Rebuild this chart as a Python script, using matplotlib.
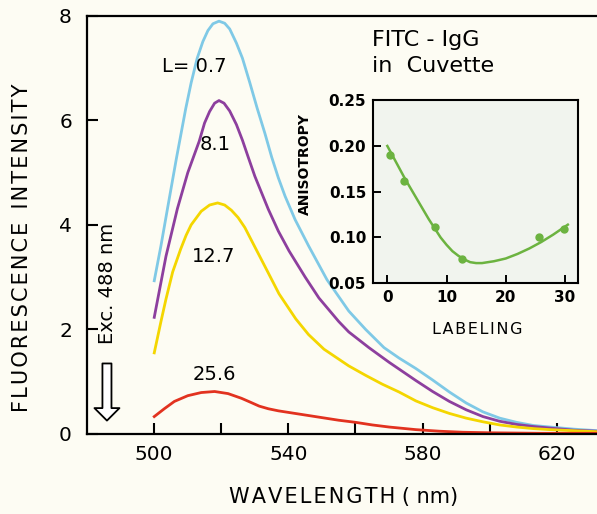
import matplotlib
matplotlib.use("Agg")
import matplotlib.pyplot as plt

# emission spectra (wavelength in nm, intensity)
wl_07 = [500, 502, 504, 506.6, 509.4, 511, 512.8, 514.5, 516, 517.5, 519.3, 521, 522.5, 524.5, 526.3,
         528.5, 530.7, 533, 535, 537, 539, 542, 546, 551.5, 558, 563, 568.5, 573, 578, 583, 588, 593,
         598, 603, 608, 613, 618, 625, 632]
fl_07 = [2.93, 3.6, 4.33, 5.27, 6.23, 6.72, 7.19, 7.51, 7.72, 7.85, 7.9, 7.86, 7.75, 7.48, 7.19,
         6.72, 6.23, 5.75, 5.3, 4.9, 4.55, 4.1, 3.6, 2.95, 2.35, 2.0, 1.65, 1.45, 1.25, 1.03, 0.8, 0.59,
         0.42, 0.3, 0.22, 0.16, 0.13, 0.09, 0.06]

wl_81 = [500, 503.5, 506.9, 510, 513.4, 515, 516.5, 518, 519.3, 520.8, 522.5, 524.5, 526.3, 528, 530,
         534, 537, 540.2, 545, 549.1, 555, 558, 564, 570, 578, 583, 588, 593, 598, 603, 608, 613, 618,
         625, 632]
fl_81 = [2.23, 3.4, 4.31, 5.0, 5.6, 5.95, 6.17, 6.33, 6.38, 6.33, 6.18, 5.92, 5.62, 5.3, 4.93,
         4.3, 3.88, 3.5, 3.0, 2.6, 2.15, 1.95, 1.65, 1.37, 1.02, 0.81, 0.62, 0.46, 0.33, 0.24, 0.18, 0.14,
         0.11, 0.07, 0.05]

wl_127 = [500, 502, 503.5, 505.5, 507.9, 509.5, 511, 514, 516.5, 518.9, 521, 523, 525, 527, 530.3, 534,
          537.2, 542.2, 546, 550.6, 558, 563, 568, 573, 578, 583, 588, 593, 598, 603, 608, 613, 618,
          625, 632]
fl_127 = [1.55, 2.15, 2.58, 3.1, 3.54, 3.8, 4.0, 4.26, 4.38, 4.42, 4.38, 4.28, 4.14, 3.95, 3.54, 3.08,
          2.68, 2.2, 1.9, 1.62, 1.3, 1.12, 0.95, 0.8, 0.63, 0.5, 0.39, 0.3, 0.23, 0.17, 0.13, 0.1, 0.08,
          0.06, 0.04]

wl_256 = [500, 503, 506, 510, 514, 518, 522, 526, 528.5, 531.3, 534, 537, 540, 545, 550, 555, 560, 565,
          570, 578, 585, 592, 600, 615, 632]
fl_256 = [0.33, 0.48, 0.62, 0.73, 0.79, 0.81, 0.77, 0.68, 0.61, 0.53, 0.48, 0.44, 0.41, 0.36, 0.31,
          0.26, 0.22, 0.17, 0.13, 0.08, 0.05, 0.03, 0.02, 0.01, 0.01]

# inset: anisotropy vs labeling
lab_pts = [0.5, 2.9, 8.0, 12.7, 25.6, 29.8]
aniso_pts = [0.190, 0.162, 0.111, 0.077, 0.101, 0.109]
lab_fit = [0, 1, 2, 3, 4, 5, 6, 7, 8, 9, 10, 11, 12, 13, 14, 15, 16, 17, 18, 20, 22, 24, 26, 28, 30.5]
aniso_fit = [0.200, 0.188, 0.176, 0.164, 0.153, 0.142, 0.131, 0.120, 0.110, 0.100, 0.092, 0.085,
             0.080, 0.076, 0.073, 0.072, 0.072, 0.073, 0.074, 0.077, 0.082, 0.088, 0.095, 0.103, 0.114]

HS = "\u200a"  # hair space, for the wide letter spacing of the original


def spaced(s):
    return HS.join(s)


bg = "#fdfcf3"
fig = plt.figure(figsize=(5.97, 5.14), dpi=100, facecolor=bg)
ax = fig.add_axes([0.146, 0.156, 0.854, 0.813], facecolor=bg)

ax.plot(wl_07, fl_07, color="#7fc9e6", lw=2)
ax.plot(wl_81, fl_81, color="#8d3f9e", lw=2)
ax.plot(wl_127, fl_127, color="#f4d600", lw=2)
ax.plot(wl_256, fl_256, color="#e2321f", lw=2)

ax.set_xlim(480, 632)
ax.set_ylim(0, 8)
ax.set_xticks([500, 520, 540, 560, 580, 600, 620])
ax.set_xticklabels(["500", "", "540", "", "580", "", "620"])
ax.set_yticks([0, 2, 4, 6, 8])
ax.tick_params(direction="in", length=8, width=1.5, labelsize=14.5, pad=8)
ax.tick_params(axis="y", pad=11)
for s in ["left", "bottom", "top"]:
    ax.spines[s].set_linewidth(1.6)
ax.spines["right"].set_visible(False)

fig.text(344 / 597, 1 - 497 / 514, spaced("WAVELENGTH") + " ( nm)", fontsize=15,
         ha="center", va="center")
fig.text(22 / 597, 1 - 248 / 514, spaced("FLUORESCENCE") + "  " + spaced("INTENSITY"), fontsize=15,
         rotation=90, ha="center", va="center")

ax.text(502.4, 7.04, "L= 0.7", fontsize=14, va="center")
ax.text(513.4, 5.54, "8.1", fontsize=14, va="center")
ax.text(511.3, 3.4, "12.7", fontsize=14, va="center")
ax.text(518, 1.13, "25.6", fontsize=14, va="center", ha="center")
ax.text(486, 2.88, "Exc. 488 nm", fontsize=14, rotation=90, va="center", ha="center")
ax.annotate("", xy=(485.9, 0.2), xytext=(485.9, 1.4),
            arrowprops=dict(arrowstyle="simple,head_width=1.8,head_length=0.9,tail_width=0.65",
                            fc="white", ec="black", lw=1.3))

fig.text(0.623, 0.923, "FITC - IgG", fontsize=16, va="center")
fig.text(0.623, 0.872, "in  Cuvette", fontsize=16, va="center")

ins = fig.add_axes([0.625, 0.449, 0.343, 0.356], facecolor="#f1f4ee")
ins.plot(lab_fit, aniso_fit, color="#6cb340", lw=1.8)
ins.plot(lab_pts, aniso_pts, "o", color="#6cb340", ms=5)
ins.set_xlim(-2.4, 32.2)
ins.set_ylim(0.05, 0.25)
ins.set_xticks([0, 10, 20, 30])
ins.set_yticks([0.05, 0.10, 0.15, 0.20, 0.25])
ins.set_yticklabels(["0.05", "0.10", "0.15", "0.20", "0.25"])
ins.tick_params(direction="in", length=6, width=1.4, labelsize=11, pad=5)
for s in ins.spines.values():
    s.set_linewidth(1.5)
for lbl in ins.get_xticklabels() + ins.get_yticklabels():
    lbl.set_fontweight("bold")
ins.set_ylabel("ANISOTROPY", fontsize=10, fontweight="bold")
ins.yaxis.set_label_coords(-0.30, 0.65)
ins.set_xlabel(spaced("LABELING"), fontsize=11.5)
ins.xaxis.set_label_coords(0.51, -0.21)

fig.savefig("out.png", dpi=100, facecolor=bg)
